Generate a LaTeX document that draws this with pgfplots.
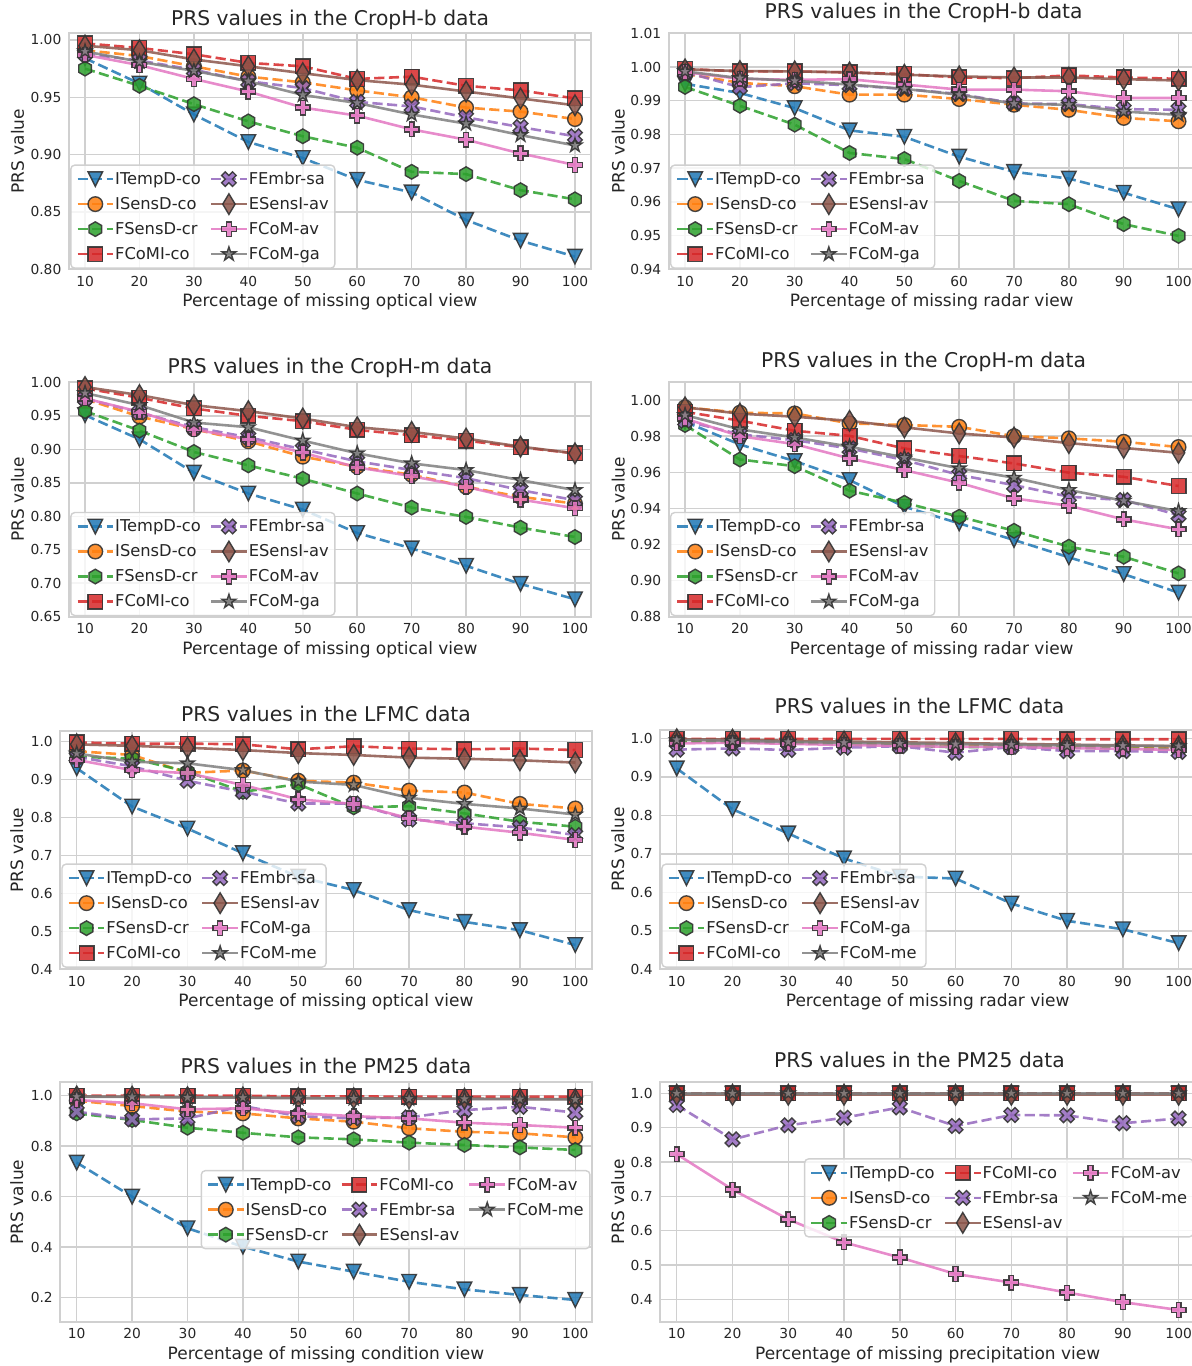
\documentclass[border=0pt]{standalone}
\usepackage{pgfplots}
\pgfplotsset{compat=1.18}
\usepackage{fontspec}
\setmainfont{DejaVu Sans}
\definecolor{c0}{HTML}{1F77B4}
\definecolor{c1}{HTML}{FF7F0E}
\definecolor{c2}{HTML}{2CA02C}
\definecolor{c3}{HTML}{D62728}
\definecolor{c4}{HTML}{9467BD}
\definecolor{c5}{HTML}{8C564B}
\definecolor{c6}{HTML}{E377C2}
\definecolor{c7}{HTML}{7F7F7F}
\definecolor{gridc}{HTML}{D0D0D0}
\definecolor{txt}{HTML}{262626}
\definecolor{edgec}{HTML}{333333}

\pgfdeclareplotmark{tridown}{%
  \pgfpathmoveto{\pgfqpoint{0pt}{-\pgfplotmarksize}}%
  \pgfpathlineto{\pgfqpoint{\pgfplotmarksize}{\pgfplotmarksize}}%
  \pgfpathlineto{\pgfqpoint{-\pgfplotmarksize}{\pgfplotmarksize}}%
  \pgfpathclose\pgfusepathqfillstroke}
\pgfdeclareplotmark{hexa}{%
  \pgfpathmoveto{\pgfqpoint{0pt}{\pgfplotmarksize}}%
  \pgfpathlineto{\pgfqpoint{-0.866\pgfplotmarksize}{0.5\pgfplotmarksize}}%
  \pgfpathlineto{\pgfqpoint{-0.866\pgfplotmarksize}{-0.5\pgfplotmarksize}}%
  \pgfpathlineto{\pgfqpoint{0pt}{-\pgfplotmarksize}}%
  \pgfpathlineto{\pgfqpoint{0.866\pgfplotmarksize}{-0.5\pgfplotmarksize}}%
  \pgfpathlineto{\pgfqpoint{0.866\pgfplotmarksize}{0.5\pgfplotmarksize}}%
  \pgfpathclose\pgfusepathqfillstroke}
\pgfdeclareplotmark{thindia}{%
  \pgfpathmoveto{\pgfqpoint{0pt}{1.414\pgfplotmarksize}}%
  \pgfpathlineto{\pgfqpoint{-0.849\pgfplotmarksize}{0pt}}%
  \pgfpathlineto{\pgfqpoint{0pt}{-1.414\pgfplotmarksize}}%
  \pgfpathlineto{\pgfqpoint{0.849\pgfplotmarksize}{0pt}}%
  \pgfpathclose\pgfusepathqfillstroke}
\pgfdeclareplotmark{plusfill}{%
  \pgfpathmoveto{\pgfqpoint{-0.333\pgfplotmarksize}{-\pgfplotmarksize}}%
  \pgfpathlineto{\pgfqpoint{0.333\pgfplotmarksize}{-\pgfplotmarksize}}%
  \pgfpathlineto{\pgfqpoint{0.333\pgfplotmarksize}{-0.333\pgfplotmarksize}}%
  \pgfpathlineto{\pgfqpoint{\pgfplotmarksize}{-0.333\pgfplotmarksize}}%
  \pgfpathlineto{\pgfqpoint{\pgfplotmarksize}{0.333\pgfplotmarksize}}%
  \pgfpathlineto{\pgfqpoint{0.333\pgfplotmarksize}{0.333\pgfplotmarksize}}%
  \pgfpathlineto{\pgfqpoint{0.333\pgfplotmarksize}{\pgfplotmarksize}}%
  \pgfpathlineto{\pgfqpoint{-0.333\pgfplotmarksize}{\pgfplotmarksize}}%
  \pgfpathlineto{\pgfqpoint{-0.333\pgfplotmarksize}{0.333\pgfplotmarksize}}%
  \pgfpathlineto{\pgfqpoint{-\pgfplotmarksize}{0.333\pgfplotmarksize}}%
  \pgfpathlineto{\pgfqpoint{-\pgfplotmarksize}{-0.333\pgfplotmarksize}}%
  \pgfpathlineto{\pgfqpoint{-0.333\pgfplotmarksize}{-0.333\pgfplotmarksize}}%
  \pgfpathclose\pgfusepathqfillstroke}
\pgfdeclareplotmark{xfill}{%
  \pgfpathmoveto{\pgfqpoint{-0.5\pgfplotmarksize}{-\pgfplotmarksize}}%
  \pgfpathlineto{\pgfqpoint{0pt}{-0.5\pgfplotmarksize}}%
  \pgfpathlineto{\pgfqpoint{0.5\pgfplotmarksize}{-\pgfplotmarksize}}%
  \pgfpathlineto{\pgfqpoint{\pgfplotmarksize}{-0.5\pgfplotmarksize}}%
  \pgfpathlineto{\pgfqpoint{0.5\pgfplotmarksize}{0pt}}%
  \pgfpathlineto{\pgfqpoint{\pgfplotmarksize}{0.5\pgfplotmarksize}}%
  \pgfpathlineto{\pgfqpoint{0.5\pgfplotmarksize}{\pgfplotmarksize}}%
  \pgfpathlineto{\pgfqpoint{0pt}{0.5\pgfplotmarksize}}%
  \pgfpathlineto{\pgfqpoint{-0.5\pgfplotmarksize}{\pgfplotmarksize}}%
  \pgfpathlineto{\pgfqpoint{-\pgfplotmarksize}{0.5\pgfplotmarksize}}%
  \pgfpathlineto{\pgfqpoint{-0.5\pgfplotmarksize}{0pt}}%
  \pgfpathlineto{\pgfqpoint{-\pgfplotmarksize}{-0.5\pgfplotmarksize}}%
  \pgfpathclose\pgfusepathqfillstroke}
\pgfdeclareplotmark{starfill}{%
  \pgfpathmoveto{\pgfqpointpolar{90}{\pgfplotmarksize}}%
  \pgfpathlineto{\pgfqpointpolar{126}{0.382\pgfplotmarksize}}%
  \pgfpathlineto{\pgfqpointpolar{162}{\pgfplotmarksize}}%
  \pgfpathlineto{\pgfqpointpolar{198}{0.382\pgfplotmarksize}}%
  \pgfpathlineto{\pgfqpointpolar{234}{\pgfplotmarksize}}%
  \pgfpathlineto{\pgfqpointpolar{270}{0.382\pgfplotmarksize}}%
  \pgfpathlineto{\pgfqpointpolar{306}{\pgfplotmarksize}}%
  \pgfpathlineto{\pgfqpointpolar{342}{0.382\pgfplotmarksize}}%
  \pgfpathlineto{\pgfqpointpolar{18}{\pgfplotmarksize}}%
  \pgfpathlineto{\pgfqpointpolar{54}{0.382\pgfplotmarksize}}%
  \pgfpathclose\pgfusepathqfillstroke}

\pgfplotsset{
  ser/.style={line width=1.3pt, draw opacity=0.85, mark size=3.65pt, sharp corners},
  mk/.style={mark options={solid, sharp corners, draw=edgec, line width=0.7pt, fill=#1, fill opacity=0.85, draw opacity=0.9}},
  dsh/.style={dash pattern=on 5.1pt off 2.2pt},
  sB/.style={ser, dsh, color=c0, mark=tridown, mk=c0},
  sO/.style={ser, dsh, color=c1, mark=*, mk=c1},
  sG/.style={ser, dsh, color=c2, mark=hexa, mk=c2},
  sR/.style={ser, dsh, color=c3, mark=square*, mk=c3},
  sP/.style={ser, dsh, color=c4, mark=xfill, mk=c4},
  sBr/.style={ser, solid, color=c5, mark=thindia, mk=c5},
  sPk/.style={ser, solid, color=c6, mark=plusfill, mk=c6},
  sGr/.style={ser, solid, color=c7, mark=starfill, mk=c7},
  ytwo/.style={yticklabel={\pgfmathprintnumber[assume math mode=true,fixed,fixed zerofill,precision=2]{\tick}}},
  yone/.style={yticklabel={\pgfmathprintnumber[assume math mode=true,fixed,fixed zerofill,precision=1]{\tick}}},
  prs/.style={
    scale only axis, anchor=south west,
    xmin=7, xmax=103, xtick={10,20,30,40,50,60,70,80,90,100},
    scaled y ticks=false,
    xticklabel={\pgfmathprintnumber[assume math mode=true]{\tick}},
    axis line style={draw=gridc, line width=0.9pt},
    grid=major, major grid style={draw=gridc, line width=0.75pt},
    major tick length=0pt,
    tick label style={font=\fontsize{6.9}{8}\selectfont, text=txt},
    xticklabel style={anchor=base, yshift=-8.6pt},
    yticklabel style={anchor=east, inner sep=0pt, xshift=-3.5pt},
    label style={font=\fontsize{8.5}{10}\selectfont, text=txt},
    title style={font=\fontsize{10.15}{12}\selectfont, text=txt, anchor=base},
    xlabel style={at={(axis description cs:0.5,0)}, anchor=base, yshift=-18.8pt},
    ylabel style={anchor=base},
    ylabel={PRS value},
    legend cell align=left,
    legend style={font=\fontsize{8.15}{9.5}\selectfont, text=txt, draw=gridc, line width=0.7pt,
      fill=white, fill opacity=0.8, draw opacity=1, text opacity=1, rounded corners=2pt,
      inner xsep=2.7pt, inner ysep=1.4pt, row sep=1.3pt, cells={anchor=west},
      nodes={text height=7.9pt, text depth=2.5pt, inner sep=0.4pt},
      /tikz/every odd column/.style={column sep=0pt},
      /tikz/every even column/.style={column sep=4.1pt}},
    legend image code/.code={\draw[mark repeat=2,mark phase=2,##1] plot coordinates {(0pt,0pt) (8.9pt,0pt) (17.8pt,0pt)};},
  }
}

\begin{document}
\begin{tikzpicture}
\useasboundingbox (0,0) rectangle (595.5pt,683pt);

% ---------------- A1 ----------------
\begin{axis}[prs, at={(34.35pt,548.35pt)}, width=261.3pt, height=118pt,
  ymin=0.80, ymax=1.0058, ytick={0.80,0.85,0.90,0.95,1.00}, ytwo,
  title={PRS values in the CropH-b data}, title style={at={(0.5,1)}, yshift=-2pt},
  xlabel={Percentage of missing optical view},
  ylabel style={at={(axis description cs:-0.086,0.5)}},
  legend columns=2, legend style={at={(0.0027,0.002)}, anchor=south west}]
\addplot[sB, forget plot] coordinates {(10,0.984) (20,0.962) (30,0.935) (40,0.911) (50,0.897) (60,0.878) (70,0.867) (80,0.843) (90,0.825) (100,0.811)};
\addplot[sO, forget plot] coordinates {(10,0.991) (20,0.986) (30,0.977) (40,0.968) (50,0.963) (60,0.956) (70,0.950) (80,0.941) (90,0.9375) (100,0.931)};
\addplot[sG, forget plot] coordinates {(10,0.975) (20,0.960) (30,0.944) (40,0.929) (50,0.916) (60,0.906) (70,0.885) (80,0.883) (90,0.869) (100,0.861)};
\addplot[sR, forget plot] coordinates {(10,0.997) (20,0.993) (30,0.9875) (40,0.980) (50,0.977) (60,0.966) (70,0.968) (80,0.960) (90,0.956) (100,0.949)};
\addplot[sP, forget plot] coordinates {(10,0.988) (20,0.982) (30,0.974) (40,0.964) (50,0.958) (60,0.946) (70,0.942) (80,0.9325) (90,0.924) (100,0.916)};
\addplot[sBr, forget plot] coordinates {(10,0.995) (20,0.991) (30,0.983) (40,0.977) (50,0.971) (60,0.965) (70,0.961) (80,0.955) (90,0.949) (100,0.943)};
\addplot[sPk, forget plot] coordinates {(10,0.987) (20,0.978) (30,0.966) (40,0.955) (50,0.941) (60,0.934) (70,0.922) (80,0.913) (90,0.901) (100,0.891)};
\addplot[sGr, forget plot] coordinates {(10,0.990) (20,0.981) (30,0.973) (40,0.964) (50,0.952) (60,0.945) (70,0.935) (80,0.927) (90,0.917) (100,0.908)};
\addlegendimage{sB}\addlegendentry{ITempD-co}
\addlegendimage{sP}\addlegendentry{FEmbr-sa}
\addlegendimage{sO}\addlegendentry{ISensD-co}
\addlegendimage{sBr}\addlegendentry{ESensI-av}
\addlegendimage{sG}\addlegendentry{FSensD-cr}
\addlegendimage{sPk}\addlegendentry{FCoM-av}
\addlegendimage{sR}\addlegendentry{FCoMI-co}
\addlegendimage{sGr}\addlegendentry{FCoM-ga}
\end{axis}

% ---------------- A2 ----------------
\begin{axis}[prs, at={(334.3pt,548.35pt)}, width=263.2pt, height=118pt,
  ymin=0.94, ymax=1.01, ytick={0.94,0.95,0.96,0.97,0.98,0.99,1.00,1.01}, ytwo,
  title={PRS values in the CropH-b data}, title style={at={(0.4845,1)}, yshift=1.3pt},
  xlabel={Percentage of missing radar view},
  ylabel style={at={(axis description cs:-0.0836,0.5)}},
  legend columns=2, legend style={at={(0.0027,0.002)}, anchor=south west}]
\addplot[sB, forget plot] coordinates {(10,0.995) (20,0.9923) (30,0.9878) (40,0.9812) (50,0.9793) (60,0.9734) (70,0.9689) (80,0.9669) (90,0.9627) (100,0.9578)};
\addplot[sO, forget plot] coordinates {(10,0.998) (20,0.9953) (30,0.9943) (40,0.9918) (50,0.9918) (60,0.9905) (70,0.9888) (80,0.9873) (90,0.9849) (100,0.9839)};
\addplot[sG, forget plot] coordinates {(10,0.9941) (20,0.9885) (30,0.9829) (40,0.9745) (50,0.9727) (60,0.9662) (70,0.9603) (80,0.9593) (90,0.9534) (100,0.9499)};
\addplot[sR, forget plot] coordinates {(10,0.9994) (20,0.9987) (30,0.9987) (40,0.9984) (50,0.9979) (60,0.9969) (70,0.9967) (80,0.9975) (90,0.9969) (100,0.9965)};
\addplot[sP, forget plot] coordinates {(10,0.9985) (20,0.994) (30,0.9952) (40,0.9946) (50,0.9935) (60,0.992) (70,0.9892) (80,0.989) (90,0.9875) (100,0.9873)};
\addplot[sBr, forget plot] coordinates {(10,0.9993) (20,0.9988) (30,0.9987) (40,0.9984) (50,0.9977) (60,0.9972) (70,0.9969) (80,0.9969) (90,0.9964) (100,0.996)};
\addplot[sPk, forget plot] coordinates {(10,0.9985) (20,0.9965) (30,0.9962) (40,0.9964) (50,0.9948) (60,0.9933) (70,0.9933) (80,0.9928) (90,0.9908) (100,0.9908)};
\addplot[sGr, forget plot] coordinates {(10,0.9987) (20,0.9967) (30,0.9959) (40,0.9948) (50,0.9935) (60,0.9918) (70,0.9891) (80,0.9888) (90,0.9868) (100,0.9858)};
\addlegendimage{sB}\addlegendentry{ITempD-co}
\addlegendimage{sP}\addlegendentry{FEmbr-sa}
\addlegendimage{sO}\addlegendentry{ISensD-co}
\addlegendimage{sBr}\addlegendentry{ESensI-av}
\addlegendimage{sG}\addlegendentry{FSensD-cr}
\addlegendimage{sPk}\addlegendentry{FCoM-av}
\addlegendimage{sR}\addlegendentry{FCoMI-co}
\addlegendimage{sGr}\addlegendentry{FCoM-ga}
\end{axis}

% ---------------- A3 ----------------
\begin{axis}[prs, at={(34.35pt,374.65pt)}, width=261.3pt, height=117.5pt,
  ymin=0.65, ymax=1.001, ytick={0.65,0.70,0.75,0.80,0.85,0.90,0.95,1.00}, ytwo,
  title={PRS values in the CropH-m data}, title style={at={(0.5,1)}, yshift=-1.7pt},
  xlabel={Percentage of missing optical view},
  ylabel style={at={(axis description cs:-0.086,0.5)}},
  legend columns=2, legend style={at={(0.0027,0.002)}, anchor=south west}]
\addplot[sB, forget plot] coordinates {(10,0.951) (20,0.915) (30,0.865) (40,0.834) (50,0.810) (60,0.775) (70,0.752) (80,0.726) (90,0.699) (100,0.676)};
\addplot[sO, forget plot] coordinates {(10,0.975) (20,0.949) (30,0.930) (40,0.912) (50,0.889) (60,0.874) (70,0.862) (80,0.844) (90,0.829) (100,0.819)};
\addplot[sG, forget plot] coordinates {(10,0.957) (20,0.928) (30,0.896) (40,0.876) (50,0.856) (60,0.834) (70,0.813) (80,0.799) (90,0.783) (100,0.769)};
\addplot[sR, forget plot] coordinates {(10,0.991) (20,0.977) (30,0.961) (40,0.950) (50,0.942) (60,0.929) (70,0.921) (80,0.913) (90,0.903) (100,0.894)};
\addplot[sP, forget plot] coordinates {(10,0.976) (20,0.955) (30,0.933) (40,0.918) (50,0.900) (60,0.882) (70,0.869) (80,0.857) (90,0.839) (100,0.824)};
\addplot[sBr, forget plot] coordinates {(10,0.993) (20,0.981) (30,0.966) (40,0.957) (50,0.946) (60,0.933) (70,0.926) (80,0.916) (90,0.904) (100,0.894)};
\addplot[sPk, forget plot] coordinates {(10,0.976) (20,0.956) (30,0.930) (40,0.915) (50,0.895) (60,0.873) (70,0.860) (80,0.844) (90,0.825) (100,0.812)};
\addplot[sGr, forget plot] coordinates {(10,0.984) (20,0.966) (30,0.940) (40,0.933) (50,0.913) (60,0.894) (70,0.879) (80,0.869) (90,0.854) (100,0.839)};
\addlegendimage{sB}\addlegendentry{ITempD-co}
\addlegendimage{sP}\addlegendentry{FEmbr-sa}
\addlegendimage{sO}\addlegendentry{ISensD-co}
\addlegendimage{sBr}\addlegendentry{ESensI-av}
\addlegendimage{sG}\addlegendentry{FSensD-cr}
\addlegendimage{sPk}\addlegendentry{FCoM-av}
\addlegendimage{sR}\addlegendentry{FCoMI-co}
\addlegendimage{sGr}\addlegendentry{FCoM-ga}
\end{axis}

% ---------------- A4 ----------------
\begin{axis}[prs, at={(334.3pt,374.65pt)}, width=263.2pt, height=117.5pt,
  ymin=0.88, ymax=1.0102, ytick={0.88,0.90,0.92,0.94,0.96,0.98,1.00}, ytwo,
  title={PRS values in the CropH-m data}, title style={at={(0.4845,1)}, yshift=1.3pt},
  xlabel={Percentage of missing radar view},
  ylabel style={at={(axis description cs:-0.0836,0.5)}},
  legend columns=2, legend style={at={(0.0027,0.002)}, anchor=south west}]
\addplot[sB, forget plot] coordinates {(10,0.988) (20,0.9754) (30,0.9662) (40,0.9557) (50,0.9409) (60,0.9317) (70,0.9225) (80,0.9129) (90,0.9036) (100,0.8933)};
\addplot[sO, forget plot] coordinates {(10,0.996) (20,0.993) (30,0.9926) (40,0.9871) (50,0.9862) (60,0.9852) (70,0.980) (80,0.9788) (90,0.9769) (100,0.974)};
\addplot[sG, forget plot] coordinates {(10,0.9862) (20,0.9671) (30,0.9634) (40,0.9498) (50,0.9431) (60,0.9354) (70,0.9276) (80,0.9188) (90,0.9132) (100,0.904)};
\addplot[sR, forget plot] coordinates {(10,0.9935) (20,0.9886) (30,0.983) (40,0.9802) (50,0.9732) (60,0.969) (70,0.9649) (80,0.9598) (90,0.9575) (100,0.9524)};
\addplot[sP, forget plot] coordinates {(10,0.9885) (20,0.981) (30,0.9778) (40,0.9732) (50,0.9668) (60,0.9585) (70,0.9529) (80,0.9465) (90,0.9446) (100,0.9363)};
\addplot[sBr, forget plot] coordinates {(10,0.996) (20,0.9925) (30,0.9908) (40,0.9885) (50,0.9849) (60,0.9815) (70,0.9793) (80,0.9762) (90,0.9735) (100,0.9708)};
\addplot[sPk, forget plot] coordinates {(10,0.9898) (20,0.980) (30,0.9756) (40,0.9677) (50,0.9612) (60,0.9542) (70,0.9455) (80,0.9415) (90,0.9339) (100,0.9284)};
\addplot[sGr, forget plot] coordinates {(10,0.9917) (20,0.9838) (30,0.9793) (40,0.9742) (50,0.9682) (60,0.9622) (70,0.957) (80,0.9502) (90,0.9442) (100,0.9385)};
\addlegendimage{sB}\addlegendentry{ITempD-co}
\addlegendimage{sP}\addlegendentry{FEmbr-sa}
\addlegendimage{sO}\addlegendentry{ISensD-co}
\addlegendimage{sBr}\addlegendentry{ESensI-av}
\addlegendimage{sG}\addlegendentry{FSensD-cr}
\addlegendimage{sPk}\addlegendentry{FCoM-av}
\addlegendimage{sR}\addlegendentry{FCoMI-co}
\addlegendimage{sGr}\addlegendentry{FCoM-ga}
\end{axis}

% ---------------- A5 ----------------
\begin{axis}[prs, at={(30.05pt,198.35pt)}, width=265.9pt, height=119.3pt,
  ymin=0.4, ymax=1.029, ytick={0.4,0.5,0.6,0.7,0.8,0.9,1.0}, yone,
  title={PRS values in the LFMC data}, title style={at={(0.5,1)}, yshift=-1.2pt},
  xlabel={Percentage of missing optical view},
  ylabel style={at={(axis description cs:-0.0696,0.5)}},
  legend columns=2, legend style={at={(0.0023,0.006)}, anchor=south west}]
\addplot[sB, forget plot] coordinates {(10,0.930) (20,0.829) (30,0.771) (40,0.706) (50,0.644) (60,0.609) (70,0.556) (80,0.525) (90,0.503) (100,0.464)};
\addplot[sO, forget plot] coordinates {(10,0.975) (20,0.965) (30,0.918) (40,0.924) (50,0.897) (60,0.892) (70,0.871) (80,0.866) (90,0.836) (100,0.824)};
\addplot[sG, forget plot] coordinates {(10,0.960) (20,0.956) (30,0.921) (40,0.868) (50,0.888) (60,0.827) (70,0.830) (80,0.811) (90,0.789) (100,0.776)};
\addplot[sR, forget plot] coordinates {(10,0.998) (20,0.995) (30,0.995) (40,0.993) (50,0.980) (60,0.988) (70,0.982) (80,0.980) (90,0.982) (100,0.978)};
\addplot[sP, forget plot] coordinates {(10,0.960) (20,0.935) (30,0.897) (40,0.868) (50,0.837) (60,0.837) (70,0.795) (80,0.785) (90,0.774) (100,0.754)};
\addplot[sBr, forget plot] coordinates {(10,0.993) (20,0.989) (30,0.984) (40,0.978) (50,0.970) (60,0.965) (70,0.958) (80,0.955) (90,0.951) (100,0.945)};
\addplot[sPk, forget plot] coordinates {(10,0.952) (20,0.925) (30,0.917) (40,0.886) (50,0.848) (60,0.836) (70,0.798) (80,0.776) (90,0.760) (100,0.741)};
\addplot[sGr, forget plot] coordinates {(10,0.969) (20,0.947) (30,0.943) (40,0.925) (50,0.895) (60,0.886) (70,0.852) (80,0.836) (90,0.824) (100,0.808)};
\addlegendimage{sB}\addlegendentry{ITempD-co}
\addlegendimage{sP}\addlegendentry{FEmbr-sa}
\addlegendimage{sO}\addlegendentry{ISensD-co}
\addlegendimage{sBr}\addlegendentry{ESensI-av}
\addlegendimage{sG}\addlegendentry{FSensD-cr}
\addlegendimage{sPk}\addlegendentry{FCoM-ga}
\addlegendimage{sR}\addlegendentry{FCoMI-co}
\addlegendimage{sGr}\addlegendentry{FCoM-me}
\end{axis}

% ---------------- A6 ----------------
\begin{axis}[prs, at={(330pt,198.35pt)}, width=267.7pt, height=119.65pt,
  ymin=0.4, ymax=1.022, ytick={0.4,0.5,0.6,0.7,0.8,0.9,1.0}, yone,
  title={PRS values in the LFMC data}, title style={at={(0.4845,1)}, yshift=2.1pt},
  xlabel={Percentage of missing radar view},
  ylabel style={at={(axis description cs:-0.0672,0.5)}},
  legend columns=2, legend style={at={(0.0023,0.006)}, anchor=south west}]
\addplot[sB, forget plot] coordinates {(10,0.922) (20,0.816) (30,0.753) (40,0.688) (50,0.641) (60,0.636) (70,0.571) (80,0.526) (90,0.504) (100,0.468)};
\addplot[sO, forget plot] coordinates {(10,0.995) (20,0.992) (30,0.990) (40,0.988) (50,0.986) (60,0.984) (70,0.982) (80,0.980) (90,0.978) (100,0.976)};
\addplot[sG, forget plot] coordinates {(10,0.992) (20,0.990) (30,0.988) (40,0.985) (50,0.982) (60,0.977) (70,0.979) (80,0.976) (90,0.974) (100,0.972)};
\addplot[sR, forget plot] coordinates {(10,0.999) (20,0.999) (30,0.999) (40,0.999) (50,0.999) (60,0.999) (70,0.999) (80,0.998) (90,0.998) (100,0.998)};
\addplot[sP, forget plot] coordinates {(10,0.971) (20,0.974) (30,0.970) (40,0.976) (50,0.980) (60,0.963) (70,0.978) (80,0.967) (90,0.967) (100,0.965)};
\addplot[sBr, forget plot] coordinates {(10,0.998) (20,0.997) (30,0.994) (40,0.992) (50,0.990) (60,0.988) (70,0.986) (80,0.984) (90,0.982) (100,0.980)};
\addplot[sPk, forget plot] coordinates {(10,0.987) (20,0.989) (30,0.986) (40,0.983) (50,0.981) (60,0.978) (70,0.978) (80,0.975) (90,0.973) (100,0.970)};
\addplot[sGr, forget plot] coordinates {(10,0.996) (20,0.994) (30,0.991) (40,0.989) (50,0.987) (60,0.985) (70,0.984) (80,0.982) (90,0.981) (100,0.980)};
\addlegendimage{sB}\addlegendentry{ITempD-co}
\addlegendimage{sP}\addlegendentry{FEmbr-sa}
\addlegendimage{sO}\addlegendentry{ISensD-co}
\addlegendimage{sBr}\addlegendentry{ESensI-av}
\addlegendimage{sG}\addlegendentry{FSensD-cr}
\addlegendimage{sPk}\addlegendentry{FCoM-ga}
\addlegendimage{sR}\addlegendentry{FCoMI-co}
\addlegendimage{sGr}\addlegendentry{FCoM-me}
\end{axis}

% ---------------- A7 ----------------
\begin{axis}[prs, at={(30.05pt,22.15pt)}, width=265.9pt, height=119.7pt,
  ymin=0.105, ymax=1.053, ytick={0.2,0.4,0.6,0.8,1.0}, yone,
  title={PRS values in the PM25 data}, title style={at={(0.5,1)}, yshift=-1.7pt},
  xlabel={Percentage of missing condition view},
  ylabel style={at={(axis description cs:-0.0696,0.5)}},
  legend columns=3, legend style={at={(0.9976,0.468)}, anchor=east}]
\addplot[sB, forget plot] coordinates {(10,0.735) (20,0.600) (30,0.475) (40,0.402) (50,0.343) (60,0.303) (70,0.263) (80,0.233) (90,0.211) (100,0.191)};
\addplot[sO, forget plot] coordinates {(10,0.980) (20,0.959) (30,0.937) (40,0.930) (50,0.910) (60,0.897) (70,0.871) (80,0.857) (90,0.851) (100,0.835)};
\addplot[sG, forget plot] coordinates {(10,0.930) (20,0.904) (30,0.873) (40,0.853) (50,0.835) (60,0.827) (70,0.814) (80,0.805) (90,0.795) (100,0.785)};
\addplot[sR, forget plot] coordinates {(10,1.000) (20,1.000) (30,1.000) (40,1.000) (50,0.997) (60,0.997) (70,0.996) (80,0.996) (90,0.996) (100,0.996)};
\addplot[sP, forget plot] coordinates {(10,0.937) (20,0.906) (30,0.910) (40,0.959) (50,0.919) (60,0.910) (70,0.914) (80,0.943) (90,0.956) (100,0.933)};
\addplot[sBr, forget plot] coordinates {(10,0.997) (20,0.996) (30,0.994) (40,0.993) (50,0.991) (60,0.990) (70,0.989) (80,0.988) (90,0.987) (100,0.986)};
\addplot[sPk, forget plot] coordinates {(10,0.983) (20,0.970) (30,0.946) (40,0.950) (50,0.930) (60,0.919) (70,0.910) (80,0.893) (90,0.884) (100,0.873)};
\addplot[sGr, forget plot] coordinates {(10,0.996) (20,0.995) (30,0.993) (40,0.992) (50,0.990) (60,0.989) (70,0.988) (80,0.987) (90,0.986) (100,0.985)};
\addlegendimage{sB}\addlegendentry{ITempD-co}
\addlegendimage{sR}\addlegendentry{FCoMI-co}
\addlegendimage{sPk}\addlegendentry{FCoM-av}
\addlegendimage{sO}\addlegendentry{ISensD-co}
\addlegendimage{sP}\addlegendentry{FEmbr-sa}
\addlegendimage{sGr}\addlegendentry{FCoM-me}
\addlegendimage{sG}\addlegendentry{FSensD-cr}
\addlegendimage{sBr}\addlegendentry{ESensI-av}
\end{axis}

% ---------------- A8 ----------------
\begin{axis}[prs, at={(330pt,22.15pt)}, width=267.7pt, height=120pt,
  ymin=0.335, ymax=1.034, ytick={0.4,0.5,0.6,0.7,0.8,0.9,1.0}, yone,
  title={PRS values in the PM25 data}, title style={at={(0.4845,1)}, yshift=1.3pt},
  xlabel={Percentage of missing precipitation view},
  ylabel style={at={(axis description cs:-0.0672,0.5)}},
  legend columns=3, legend style={at={(0.9974,0.516)}, anchor=east}]
\addplot[sB, forget plot] coordinates {(10,0.999) (20,0.999) (30,0.999) (40,0.999) (50,0.999) (60,0.999) (70,0.999) (80,0.999) (90,0.999) (100,0.999)};
\addplot[sO, forget plot] coordinates {(10,0.999) (20,0.999) (30,0.999) (40,0.999) (50,0.999) (60,0.999) (70,0.999) (80,0.999) (90,0.999) (100,0.999)};
\addplot[sG, forget plot] coordinates {(10,0.999) (20,0.999) (30,0.999) (40,0.999) (50,0.999) (60,0.999) (70,0.999) (80,0.999) (90,0.999) (100,0.999)};
\addplot[sR, forget plot] coordinates {(10,1.000) (20,1.000) (30,1.000) (40,1.000) (50,1.000) (60,1.000) (70,1.000) (80,1.000) (90,1.000) (100,1.000)};
\addplot[sP, forget plot] coordinates {(10,0.966) (20,0.866) (30,0.907) (40,0.929) (50,0.959) (60,0.905) (70,0.937) (80,0.936) (90,0.913) (100,0.927)};
\addplot[sBr, forget plot] coordinates {(10,0.996) (20,0.996) (30,0.996) (40,0.996) (50,0.996) (60,0.996) (70,0.996) (80,0.996) (90,0.996) (100,0.996)};
\addplot[sPk, forget plot] coordinates {(10,0.823) (20,0.720) (30,0.633) (40,0.566) (50,0.522) (60,0.474) (70,0.449) (80,0.420) (90,0.392) (100,0.369)};
\addplot[sGr, forget plot] coordinates {(10,1.000) (20,1.000) (30,1.000) (40,1.000) (50,1.000) (60,1.000) (70,1.000) (80,1.000) (90,1.000) (100,1.000)};
\addlegendimage{sB}\addlegendentry{ITempD-co}
\addlegendimage{sR}\addlegendentry{FCoMI-co}
\addlegendimage{sPk}\addlegendentry{FCoM-av}
\addlegendimage{sO}\addlegendentry{ISensD-co}
\addlegendimage{sP}\addlegendentry{FEmbr-sa}
\addlegendimage{sGr}\addlegendentry{FCoM-me}
\addlegendimage{sG}\addlegendentry{FSensD-cr}
\addlegendimage{sBr}\addlegendentry{ESensI-av}
\end{axis}
\end{tikzpicture}
\end{document}
